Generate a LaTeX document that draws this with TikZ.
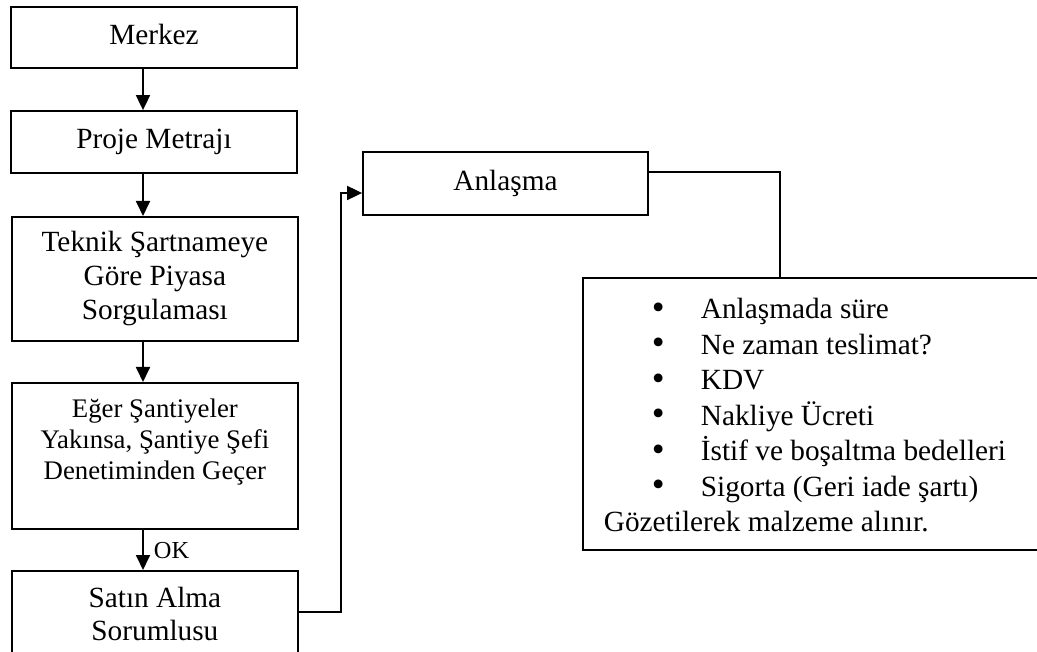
\documentclass[tikz,border=0pt]{standalone}
\usepackage{fontspec}
\setmainfont{Liberation Serif}
\usetikzlibrary{arrows.meta}
\newcommand{\szA}{\fontsize{29.3}{34}\selectfont}
\newcommand{\szB}{\fontsize{26.8}{31}\selectfont}
\newcommand{\szC}{\fontsize{24.4}{28}\selectfont}
\newcommand{\szD}{\fontsize{29.3}{35.5}\selectfont}
\newcommand{\bul}{\makebox[49pt][l]{\raisebox{-0.5pt}{\scalebox{1.25}{•}}}}
\begin{document}
\begin{tikzpicture}[x=1pt,y=-1pt,
  box/.style={draw, line width=1.8pt, inner sep=0pt, minimum width=286pt,
              text height=20.5pt, text depth=7.3pt, font=\szA},
  tbox/.style={draw, line width=1.8pt, inner sep=0pt, anchor=north west},
  arr/.style={line width=1.8pt, -{Triangle[length=15pt,width=14pt]}},
  link/.style={line width=1.8pt}]
\useasboundingbox (0,0) rectangle (1037,652);
\clip (0,0) rectangle (1037,652);

\coordinate (ax) at (143,0);
\coordinate (sy) at (0,612);
\coordinate (vx) at (341,0);
\coordinate (ay) at (0,193);
\coordinate (ly) at (0,172);
\coordinate (lx) at (780,0);

\node[box, minimum height=61pt] (merkez) at (154,37.5) {Merkez};
\node[box, minimum height=62pt] (proje) at (154,142) {Proje Metrajı};
\node[tbox] (teknik) at (11,216) {\parbox[c][124pt][t]{286pt}{\centering\szA\rule{0pt}{35pt}Teknik Şartnameye\\Göre Piyasa\\Sorgulaması}};
\node[tbox] (eger) at (11,382) {\parbox[c][146pt][t]{286pt}{\centering\szB\rule{0pt}{35pt}Eğer Şantiyeler\\Yakınsa, Şantiye Şefi\\Denetiminden Geçer}};
\node[tbox] (satin) at (11,570) {\parbox[c][110pt][t]{286pt}{\centering\fontsize{29.3}{33}\selectfont\rule{0pt}{37pt}Satın Alma\\Sorumlusu}};
\node[box, minimum width=285pt, minimum height=63pt] (anl) at (505.5,183.5) {Anlaşma};
\node[tbox] (cond) at (582,277) {\parbox[c][272pt][t]{480pt}{\raggedright\szD\rule{0pt}{41pt}\hspace*{69pt}\bul Anlaşmada süre\\
\hspace*{69pt}\bul Ne zaman teslimat?\\
\hspace*{69pt}\bul KDV\\
\hspace*{69pt}\bul Nakliye Ücreti\\
\hspace*{69pt}\bul İstif ve boşaltma bedelleri\\
\hspace*{69pt}\bul Sigorta (Geri iade şartı)\\
\hspace*{21pt}Gözetilerek malzeme alınır.}};

\draw[arr] (merkez.south -| ax) -- (proje.north -| ax);
\draw[arr] (proje.south -| ax) -- (teknik.north -| ax);
\draw[arr] (teknik.south -| ax) -- (eger.north -| ax);
\draw[arr] (eger.south -| ax) -- node[pos=0.71, anchor=base west, inner sep=0pt, xshift=10pt, font=\szC]{OK} (satin.north -| ax);
\draw[arr] (satin.east |- sy) -| (vx |- ay) -- (anl.west |- ay);
\draw[link] (anl.east |- ly) -| (cond.north -| lx);
\end{tikzpicture}
\end{document}
